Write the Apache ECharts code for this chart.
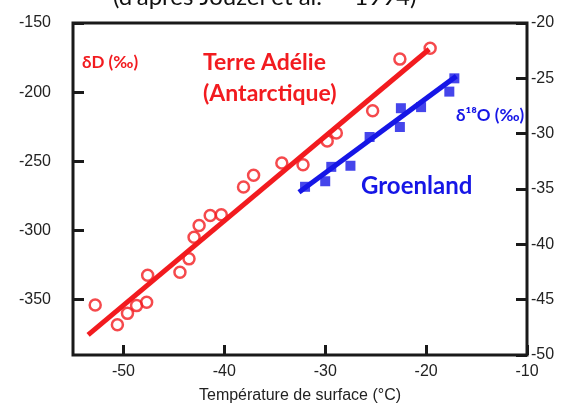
<!DOCTYPE html>
<html>
<head>
<meta charset="utf-8">
<script src="https://cdn.jsdelivr.net/npm/echarts@6/dist/echarts.min.js"></script>
<style>
html,body{margin:0;padding:0;background:#fff;}
#chart{width:573px;height:405px;}
</style>
</head>
<body>
<div id="chart"></div>
<script>
// Terre Adélie (Antarctique): temperature (°C) and δD (‰)
var redTemp  = [-52.8, -50.6, -49.6, -48.7, -47.7, -47.6, -44.4, -43.5, -43.0, -42.5, -41.4, -40.3, -38.1, -37.1, -34.3, -32.2, -29.8, -28.9, -25.3, -22.6, -19.6];
var redDelta = [-353.8, -368.1, -359.9, -354.3, -351.9, -332.4, -330.2, -320.5, -304.9, -296.4, -289.1, -288.6, -268.5, -260.1, -251.2, -252.5, -235.3, -229.5, -213.5, -176.1, -168.3];
// Groenland: temperature (°C) and δ18O (‰)
var blueTemp  = [-32.0, -30.0, -29.4, -27.5, -25.6, -22.6, -22.5, -20.5, -17.7, -17.2];
var blueDelta = [-34.8, -34.3, -33.0, -32.9, -30.3, -29.4, -27.7, -27.6, -26.2, -25.0];
// regression lines (end points)
var redFitTemp = [-53.5, -19.7];
var redFitDelta = [-375.4, -169.0];
var blueFitTemp = [-32.6, -17.0];
var blueFitDelta = [-35.3, -24.8];
// ticks
var xTicks = [-50, -40, -30, -20, -10];
var leftTicks = [-350, -300, -250, -200, -150];
var rightTicks = [-50, -45, -40, -35, -30, -25, -20];

function pairs(a, b) { return a.map(function (v, i) { return [v, b[i]]; }); }

var RED = '#f21b1f';
var BLUE = '#1616e6';
var AX = '#1a1a1a';
var labelFont = { fontFamily: 'Liberation Sans', fontSize: 16, color: '#222' };

var chart = echarts.init(document.getElementById('chart'), null, { renderer: 'canvas' });
chart.setOption({
  animation: false,
  backgroundColor: '#fff',
  grid: { left: 73, right: 46, top: 23, bottom: 50, outerBoundsMode: 'none', containLabel: false, show: true, borderColor: AX, borderWidth: 3, backgroundColor: 'transparent' },
  xAxis: {
    type: 'value', min: -55, max: -10,
    name: 'Température de surface (°C)', nameLocation: 'middle', nameGap: 33,
    nameTextStyle: { fontFamily: 'Liberation Sans', fontSize: 16, color: '#222' },
    axisLine: { show: false },
    axisTick: { show: true, inside: true, length: 10, customValues: xTicks, lineStyle: { color: AX, width: 3 } },
    axisLabel: Object.assign({ customValues: xTicks, margin: 9 }, labelFont),
    splitLine: { show: false }
  },
  yAxis: [
    {
      type: 'value', min: -390, max: -150, position: 'left',
      axisLine: { show: false },
      axisTick: { show: true, inside: true, length: 11, customValues: leftTicks, lineStyle: { color: AX, width: 3 } },
      axisLabel: Object.assign({ customValues: leftTicks, margin: 22 }, labelFont),
      splitLine: { show: false }
    },
    {
      type: 'value', min: -50, max: -20, interval: 5, position: 'right',
      axisLine: { show: false },
      axisTick: { show: true, inside: true, length: 11, lineStyle: { color: AX, width: 3 } },
      axisLabel: Object.assign({ margin: 4 }, labelFont),
      splitLine: { show: false }
    }
  ],
  graphic: [
    { type: 'text', x: 113, y: -15, style: { text: "(d'après Jouzel et al.  – 1994)", fontFamily: 'Lato', fontSize: 24, fill: '#111' }, z: 10 },
    { type: 'text', x: 82, y: 54, style: { text: 'δD (‰)', fontFamily: 'Lato', fontWeight: 'bold', fontSize: 17, fill: RED }, z: 10 },
    { type: 'text', x: 203, y: 47, style: { text: 'Terre Adélie\n(Antarctique)', fontFamily: 'Lato', fontWeight: 'bold', fontSize: 23, lineHeight: 31, fill: RED }, z: 10 },
    { type: 'text', x: 361, y: 174, style: { text: 'Groenland', fontFamily: 'Lato', fontWeight: 'bold', fontSize: 24, fill: BLUE }, z: 10 },
    { type: 'text', x: 456, y: 107, style: { text: 'δ¹⁸O (‰)', fontFamily: 'Lato', fontWeight: 'bold', fontSize: 17, fill: BLUE }, z: 10 }
  ],
  series: [
    {
      type: 'line', xAxisIndex: 0, yAxisIndex: 0, data: pairs(redFitTemp, redFitDelta),
      symbol: 'none', lineStyle: { color: RED, width: 5 }, z: 2
    },
    {
      type: 'scatter', xAxisIndex: 0, yAxisIndex: 0, data: pairs(redTemp, redDelta),
      symbol: 'circle', symbolSize: 11,
      itemStyle: { color: 'rgba(255,255,255,0)', borderColor: RED, borderWidth: 2.5 }, z: 3
    },
    {
      type: 'line', xAxisIndex: 0, yAxisIndex: 1, data: pairs(blueFitTemp, blueFitDelta),
      symbol: 'none', lineStyle: { color: BLUE, width: 5 }, z: 2
    },
    {
      type: 'scatter', xAxisIndex: 0, yAxisIndex: 1, data: pairs(blueTemp, blueDelta),
      symbol: 'rect', symbolSize: 10,
      itemStyle: { color: BLUE }, z: 3
    }
  ]
});
</script>
</body>
</html>
